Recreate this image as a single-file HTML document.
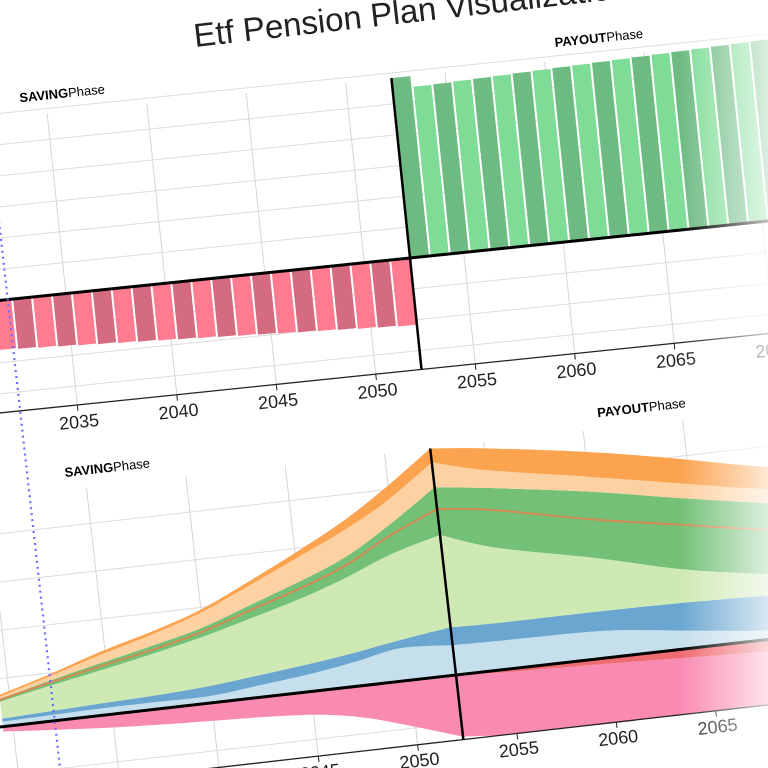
<!DOCTYPE html>
<html><head><meta charset="utf-8"><style>
html,body{margin:0;padding:0;background:#fff;overflow:hidden;width:768px;height:768px;}
svg{display:block;font-family:"Liberation Sans",sans-serif;}
</style></head>
<body>
<svg id="chart" width="768" height="768" viewBox="0 0 768 768" xmlns="http://www.w3.org/2000/svg" overflow="hidden">
<defs>
 <clipPath id="clipTop"><rect x="-520" y="-181" width="1000" height="293"/></clipPath>
 <clipPath id="clipBot"><rect x="-520" y="-228" width="1000" height="293"/></clipPath>
 <linearGradient id="fade" x1="0" y1="0" x2="1" y2="0">
  <stop offset="0" stop-color="#fff" stop-opacity="0"/>
  <stop offset="1" stop-color="#fff" stop-opacity="0.75"/>
 </linearGradient>
</defs>
<text transform="translate(195,47) rotate(-6.5)" font-size="33" fill="#222">Etf Pension Plan Visualization</text>
<g id="top" transform="translate(410,258) rotate(-5.9)">
 <g id="topGrid"></g>
 <g id="topBars" clip-path="url(#clipTop)"></g>
 <g id="topAxis"></g>
 <text x="-372" y="-195" font-size="13"><tspan font-weight="bold">SAVING</tspan>Phase</text>
 <text x="166" y="-195" font-size="13"><tspan font-weight="bold">PAYOUT</tspan>Phase</text>
</g>
<g id="bot" transform="translate(456,675) rotate(-6.5)">
 <g id="botGrid"></g>
 <g id="botAreas" clip-path="url(#clipBot)"></g>
 <g id="botAxis"></g>
 <text x="-366" y="-241" font-size="13"><tspan font-weight="bold">SAVING</tspan>Phase</text>
 <text x="170" y="-240" font-size="13"><tspan font-weight="bold">PAYOUT</tspan>Phase</text>
</g>
<line x1="-1.7" y1="215" x2="60" y2="768" stroke="#6b6bff" stroke-width="2.2" stroke-dasharray="2,4"/>
<rect x="680" y="0" width="88" height="768" fill="url(#fade)"/>
</svg>
<script>
// ---- data ----
const savingYears = [2029,2030,2031,2032,2033,2034,2035,2036,2037,2038,2039,2040,2041,2042,2043,2044,2045,2046,2047,2048,2049,2050,2051];
const savingValues = [460,468,477,485,494,502,511,519,528,536,545,553,562,570,579,587,596,604,613,621,630,638,648];
const payoutYears = [2052,2053,2054,2055,2056,2057,2058,2059,2060,2061,2062,2063,2064,2065,2066,2067,2068,2069,2070,2071];
const payoutValues = [1750,1645,1650,1656,1662,1668,1674,1680,1686,1692,1698,1704,1710,1716,1722,1728,1734,1740,1746,1752];
const tickYears = [2025,2030,2035,2040,2045,2050,2055,2060,2065,2070,2075];

const stackYears = [2029.5,2032,2034.7,2037.5,2040,2042.5,2045.25,2047.5,2049.7,2052.3,2055,2060,2064,2068,2072];
const lightBlue  = [5,6,7,7,7,12,18,25,33,30,29,27,18,9,5];
const blue       = [3,4,5,7,10,10,10,9,8,18,18,20,28,35,37];
const lightGreen = [17,25,33,42,50,58,67,76,86,93,75,53,34,22,13];
const darkGreen  = [3,5,7,8,9,13,17,20,28,48,60,67,72,72,70];
const lightOrange= [2,4,8,11,15,19,24,26,24,25,18,15,15,14,15];
const darkOrange = [2,2,3,3,3,4,6,9,13,14,22,25,25,23,20];
const medianLine = [27,38,49,60,72,88,105,122,145,167,160,139,125,111,100];
const withdrawals= [0,0,0,0,0,0,0,0,0,0,3,6,9,12,14];
const taxes      = [5,9,13,16,18,20,24,32,45,62,66,70,72,74,75];

const NS='http://www.w3.org/2000/svg';
const BOUND=2052.3;
const xs = yr => (yr-BOUND)*20;
const yTop = v => -v*31/300;
const yBot = v => -v;
function mk(tag, attrs, parent){const e=document.createElementNS(NS,tag);for(const k in attrs)e.setAttribute(k,attrs[k]);parent.appendChild(e);return e;}

// ---- top chart ----
const tg=document.getElementById('topGrid');
for(let i=-6;i<=3;i++){
  const l=mk('line',{x1:-520,x2:480,y1:i*31,y2:i*31,stroke:'#dcdcdc','stroke-width':1},tg);
  
  
}
tickYears.forEach(y=>{
  const l=mk('line',{x1:xs(y),x2:xs(y),y1:-181,y2:112,stroke:'#d6d6d6','stroke-width':1},tg);
  
  
});
const tb=document.getElementById('topBars');
savingYears.forEach((y,i)=>{
  const h=-yTop(savingValues[i]);
  const r=mk('rect',{x:xs(y+0.3)+1,y:0,width:18,height:h,fill:(i%2? '#d46b80':'#ff7b90')},tb);
  
  
});
payoutYears.forEach((y,i)=>{
  const h=-yTop(payoutValues[i]);
  const r=mk('rect',{x:xs(y+0.3)+1,y:-h,width:18,height:h,fill:(i%2? '#7fdc97':'#6dbb83')},tb);
  
  
});
const ta=document.getElementById('topAxis');
let e;
e=mk('line',{x1:-520,x2:480,y1:112,y2:112,stroke:'#222','stroke-width':1.3},ta);

e=mk('line',{x1:-520,x2:480,y1:0,y2:0,stroke:'#000','stroke-width':3},ta);

e=mk('line',{x1:0,x2:0,y1:-181,y2:112,stroke:'#000','stroke-width':2.5},ta);

tickYears.forEach(y=>{
  const t=mk('line',{x1:xs(y),x2:xs(y),y1:112,y2:118,stroke:'#222','stroke-width':1},ta);
  
  const tx=mk('text',{x:xs(y),y:135,'text-anchor':'middle','font-size':18,fill:'#222'},ta);
  tx.textContent=y;
  
});

// ---- bottom chart ----
const bg=document.getElementById('botGrid');
for(let i=-4;i<=1;i++){
  const l=mk('line',{x1:-520,x2:480,y1:i*48,y2:i*48,stroke:'#dcdcdc','stroke-width':1},bg);
  
  
}
tickYears.forEach(y=>{
  const l=mk('line',{x1:xs(y),x2:xs(y),y1:-228,y2:65,stroke:'#d6d6d6','stroke-width':1},bg);
  
  
});
function smooth(pts){
  let d='';
  for(let i=0;i<pts.length;i++){
    if(i===0){d+='M'+pts[0][0]+','+pts[0][1];continue;}
    const p0=pts[Math.max(i-2,0)],p1=pts[i-1],p2=pts[i],p3=pts[Math.min(i+1,pts.length-1)];
    const c1=[p1[0]+(p2[0]-p0[0])/6,p1[1]+(p2[1]-p0[1])/6];
    const c2=[p2[0]-(p3[0]-p1[0])/6,p2[1]-(p3[1]-p1[1])/6];
    d+='C'+c1[0]+','+c1[1]+' '+c2[0]+','+c2[1]+' '+p2[0]+','+p2[1];
  }
  return d;
}
const bIdx=stackYears.indexOf(BOUND);
function seg(vals,a,b){const r=[];for(let i=a;i<=b;i++)r.push([xs(stackYears[i]),yBot(vals[i])]);return r;}
function bandPath(lo,hi){
  let d='';
  [[0,bIdx],[bIdx,stackYears.length-1]].forEach(([a,b])=>{
    const top=seg(hi,a,b), bot=seg(lo,a,b).reverse();
    d+=smooth(top)+smooth(bot).replace('M','L')+'Z';
  });
  return d;
}
const ba=document.getElementById('botAreas');
const layers=[['light-blue-area',lightBlue,'#c6dfec'],['blue-area',blue,'#6aa6d0'],['light-green-area',lightGreen,'#cfe9b4'],['dark-green-area',darkGreen,'#74c077'],['light-orange-area',lightOrange,'#fdd1a2'],['dark-orange-area',darkOrange,'#fba34f']];
let cum=stackYears.map(()=>0);
layers.forEach(([name,vals,col])=>{
  const next=cum.map((c,i)=>c+vals[i]);
  const p=mk('path',{d:bandPath(cum,next),fill:col},ba);
  
  
  cum=next;
});
const negW=withdrawals.map(v=>-v), negT=taxes.map(v=>-v);
let p=mk('path',{d:bandPath(negT,negW),fill:'#f98bb3'},ba);

p=mk('path',{d:bandPath(negW,stackYears.map(()=>0)),fill:'#ee6b70'},ba);

let ld='';
[[0,bIdx],[bIdx,stackYears.length-1]].forEach(([a,b])=>{ld+=smooth(seg(medianLine,a,b));});
p=mk('path',{d:ld,fill:'none',stroke:'#d38a55','stroke-width':2},ba);


const bx=document.getElementById('botAxis');
e=mk('line',{x1:-520,x2:480,y1:65,y2:65,stroke:'#222','stroke-width':1.3},bx);

e=mk('line',{x1:-520,x2:480,y1:0,y2:0,stroke:'#000','stroke-width':3},bx);

e=mk('line',{x1:0,x2:0,y1:-228,y2:65,stroke:'#000','stroke-width':2.5},bx);

tickYears.forEach(y=>{
  const t=mk('line',{x1:xs(y),x2:xs(y),y1:65,y2:71,stroke:'#222','stroke-width':1},bx);
  
  const tx=mk('text',{x:xs(y),y:87,'text-anchor':'middle','font-size':18,fill:'#222'},bx);
  tx.textContent=y;
  
});
</script>
</body></html>
